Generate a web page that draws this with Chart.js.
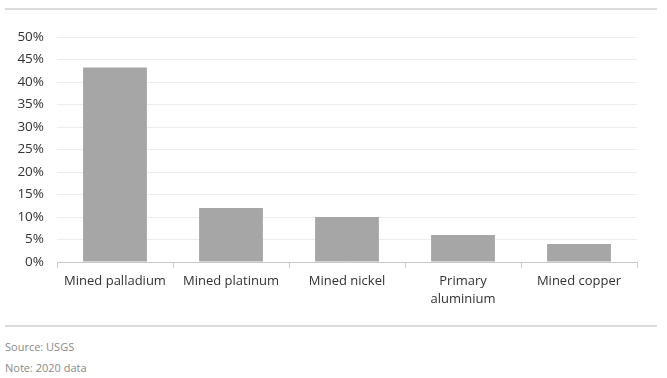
<!DOCTYPE html>
<html>
<head>
<meta charset="utf-8">
<script src="https://cdn.jsdelivr.net/npm/chart.js@4.4.0/dist/chart.umd.min.js"></script>
<style>
  body { margin: 0; background: #fff; font-family: "Open Sans", sans-serif; }
  .rule { position: absolute; left: 5px; width: 652px; height: 2px; background: #dcdcdc; }
  #wrap { position: absolute; left: 0; top: 10px; width: 667px; height: 310px; }
  .note { position: absolute; left: 5px; font-size: 11px; color: #8a8a8a; }
</style>
</head>
<body>
<div class="rule" style="top:8px"></div>
<div id="wrap"><canvas id="chart"></canvas></div>
<div class="rule" style="top:325px"></div>
<div class="note" style="top:339px">Source: USGS</div>
<div class="note" style="top:360px">Note: 2020 data</div>
<script>
  // share of global production (%)
  const categories = ["Mined palladium", "Mined platinum", "Mined nickel", ["Primary", "aluminium"], "Mined copper"];
  const shares = [43.2, 12, 10, 6, 4];
  const yTicks = [0, 5, 10, 15, 20, 25, 30, 35, 40, 45, 50];

  const ctx = document.getElementById("chart").getContext("2d");
  new Chart(ctx, {
    type: 'bar',
    data: {
      labels: categories,
      datasets: [{
        data: shares,
        backgroundColor: '#a6a6a6',
        barPercentage: 0.55,
        categoryPercentage: 1
      }]
    },
    options: {
      responsive: true,
      maintainAspectRatio: false,
      animation: false,
      layout: { padding: { top: 27, right: 30, left: 0, bottom: 0 } },
      plugins: { legend: { display: false }, tooltip: { enabled: false } },
      scales: {
        x: {
          grid: { drawOnChartArea: false, drawTicks: true, tickLength: 6, color: '#c8c8c8' },
          border: { color: '#c8c8c8' },
          ticks: { color: '#333', font: { family: 'Open Sans', size: 13, lineHeight: 1.35 }, padding: 5, maxRotation: 0 },
          afterFit: function (scale) { scale.height = 58; }
        },
        y: {
          min: 0,
          max: 50,
          afterBuildTicks: function (scale) { scale.ticks = yTicks.map(v => ({ value: v })); },
          grid: { color: '#ececec', drawTicks: false },
          border: { display: false },
          ticks: { color: '#333', font: { family: 'Open Sans', size: 13.5 }, padding: 13, callback: v => v + '%' },
          afterFit: function (scale) { scale.width = 57; }
        }
      }
    }
  });
</script>
</body>
</html>
